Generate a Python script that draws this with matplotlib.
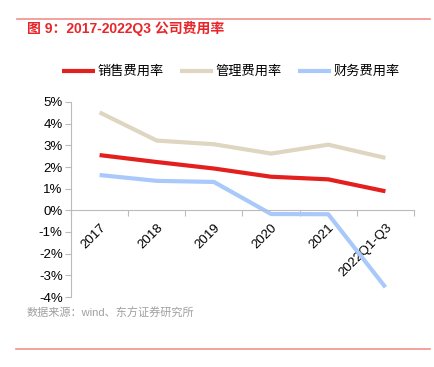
import matplotlib.pyplot as plt
from matplotlib.lines import Line2D
from matplotlib.ticker import FuncFormatter

plt.rcParams['font.family'] = ['Liberation Sans', 'Noto Sans CJK SC']

# data
years = ['2017', '2018', '2019', '2020', '2021', '2022Q1-Q3']
sales_rate = [2.55, 2.23, 1.93, 1.55, 1.43, 0.88]
admin_rate = [4.52, 3.22, 3.05, 2.62, 3.03, 2.42]
finance_rate = [1.63, 1.36, 1.31, -0.17, -0.18, -3.55]

series_names = ['销售费用率', '管理费用率', '财务费用率']
colors = ['#E3201E', '#DFD6C1', '#A9C9FB']

fig = plt.figure(figsize=(4.35, 3.67), dpi=100)

# header / footer decorations
fig.add_artist(Line2D([17 / 435, 430 / 435], [1 - 18.5 / 367] * 2, color='#F0908C', lw=1.2))
fig.add_artist(Line2D([16 / 435, 430 / 435], [1 - 349 / 367] * 2, color='#F0908C', lw=1.2))
fig.text(27 / 435, 1 - 29 / 367, '图 9：2017-2022Q3 公司费用率', color='#E8262A',
         fontsize=10, fontweight='bold', va='center', ha='left')
fig.text(27 / 435, 1 - 313 / 367, '数据来源：wind、东方证券研究所', color='#A0A0A0',
         fontsize=8, va='center', ha='left')

ax = fig.add_axes([71 / 435, 1 - 297 / 367, (414 - 71) / 435, (297 - 102) / 367])

x = list(range(len(years)))
for vals, c, name in zip([sales_rate, admin_rate, finance_rate], colors, series_names):
    ax.plot(x, vals, color=c, lw=3, label=name, solid_capstyle='butt')

ax.set_xlim(-0.5, len(years) - 0.5)
ax.set_ylim(-4, 5)
ax.set_yticks(range(-4, 6))
ax.yaxis.set_major_formatter(FuncFormatter(lambda v, p: f'{int(v)}%'))

for s in ['top', 'right']:
    ax.spines[s].set_visible(False)
ax.spines['bottom'].set_position(('data', 0))
ax.spines['left'].set_color('#BBBBBB')
ax.spines['bottom'].set_color('#BBBBBB')

# boundaries as major ticks, labels as minor ticks
ax.set_xticks([i - 0.5 for i in range(len(years) + 1)])
ax.set_xticklabels([])
ax.set_xticks(x, minor=True)
ax.set_xticklabels(years, minor=True, rotation=45, ha='right', rotation_mode='anchor', fontsize=9.5)
ax.tick_params(axis='x', which='major', direction='out', length=4, color='#BBBBBB')
ax.tick_params(axis='x', which='minor', length=0, pad=8)
ax.tick_params(axis='y', direction='out', length=4, color='#BBBBBB', labelsize=9.5, pad=2)

fig.legend(loc='center', bbox_to_anchor=(231 / 435, 1 - 72 / 367), ncol=3, frameon=False,
           fontsize=9.5, handlelength=2.5, handletextpad=0.2, columnspacing=1.2)

plt.savefig('out.png', dpi=100)
